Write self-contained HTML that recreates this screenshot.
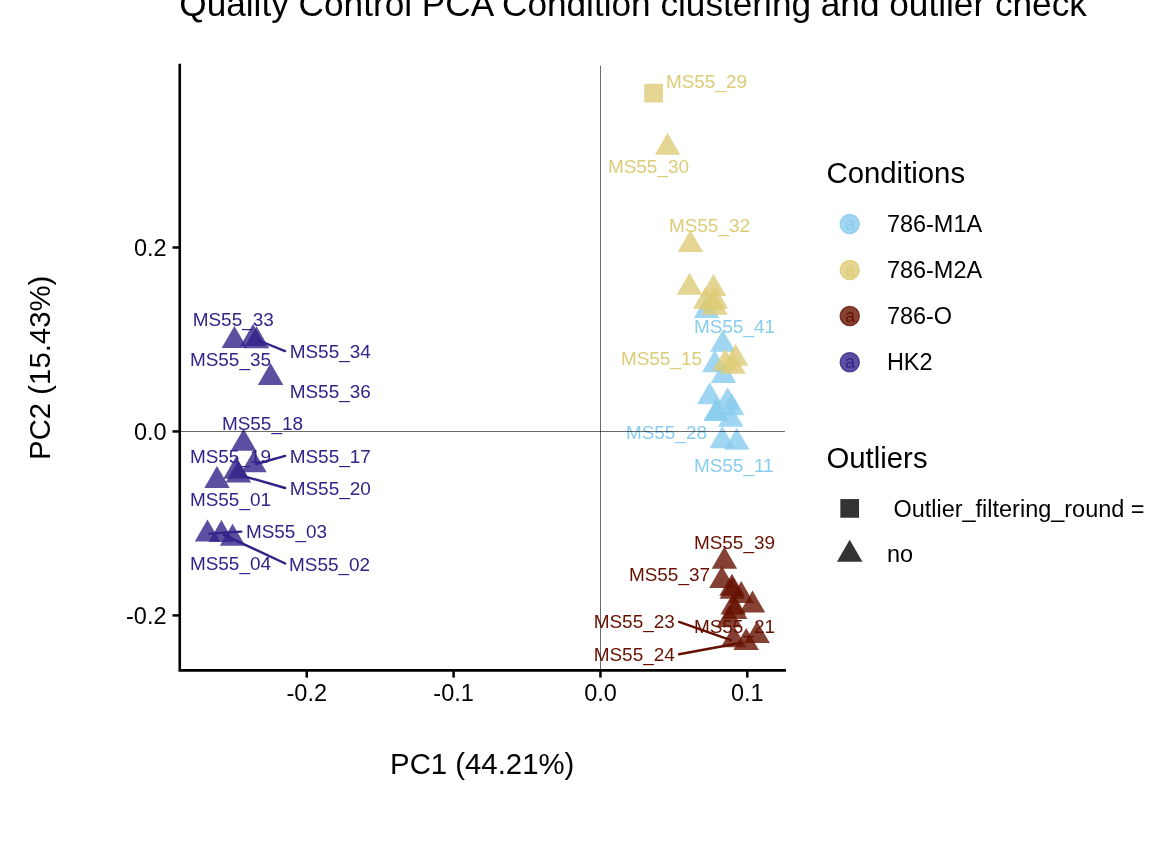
<!DOCTYPE html>
<html><head><meta charset="utf-8"><title>Quality Control PCA</title>
<style>
html,body{margin:0;padding:0;background:#fff;width:1152px;height:864px;overflow:hidden}
svg{display:block;will-change:transform}
text{font-family:"Liberation Sans","Helvetica","Arial",sans-serif}
</style></head><body>
<svg width="1152" height="864" viewBox="0 0 1152 864">
<rect x="0" y="0" width="1152" height="864" fill="#fff"/>

<text x="179.3" y="15.6" font-size="35.2" fill="#000">Quality Control PCA Condition clustering and outlier check</text>
<g fill-opacity="0.8">
<polygon points="706.60,296.00 719.33,318.05 693.87,318.05" fill="#88CCEE"/>
<polygon points="722.80,329.80 735.53,351.85 710.07,351.85" fill="#88CCEE"/>
<polygon points="714.70,350.10 727.43,372.15 701.97,372.15" fill="#88CCEE"/>
<polygon points="723.50,361.00 736.23,383.05 710.77,383.05" fill="#88CCEE"/>
<polygon points="709.70,382.20 722.43,404.25 696.97,404.25" fill="#88CCEE"/>
<polygon points="727.50,387.20 740.23,409.25 714.77,409.25" fill="#88CCEE"/>
<polygon points="731.70,393.10 744.43,415.15 718.97,415.15" fill="#88CCEE"/>
<polygon points="716.30,398.70 729.03,420.75 703.57,420.75" fill="#88CCEE"/>
<polygon points="716.30,398.90 729.03,420.95 703.57,420.95" fill="#88CCEE"/>
<polygon points="730.80,404.80 743.53,426.85 718.07,426.85" fill="#88CCEE"/>
<polygon points="722.20,426.10 734.93,448.15 709.47,448.15" fill="#88CCEE"/>
<polygon points="736.80,427.80 749.53,449.85 724.07,449.85" fill="#88CCEE"/>
<rect x="644.25" y="83.75" width="18.7" height="18.7" fill="#DDCC77"/>
<polygon points="667.60,132.70 680.33,154.75 654.87,154.75" fill="#DDCC77"/>
<polygon points="690.40,229.90 703.13,251.95 677.67,251.95" fill="#DDCC77"/>
<polygon points="689.50,272.80 702.23,294.85 676.77,294.85" fill="#DDCC77"/>
<polygon points="713.50,274.00 726.23,296.05 700.77,296.05" fill="#DDCC77"/>
<polygon points="705.60,286.80 718.33,308.85 692.87,308.85" fill="#DDCC77"/>
<polygon points="715.50,286.80 728.23,308.85 702.77,308.85" fill="#DDCC77"/>
<polygon points="712.50,288.00 725.23,310.05 699.77,310.05" fill="#DDCC77"/>
<polygon points="714.80,292.80 727.53,314.85 702.07,314.85" fill="#DDCC77"/>
<polygon points="735.60,343.80 748.33,365.85 722.87,365.85" fill="#DDCC77"/>
<polygon points="725.20,348.80 737.93,370.85 712.47,370.85" fill="#DDCC77"/>
<polygon points="733.00,351.80 745.73,373.85 720.27,373.85" fill="#DDCC77"/>
<polygon points="724.40,546.70 737.13,568.75 711.67,568.75" fill="#661100"/>
<polygon points="721.90,565.90 734.63,587.95 709.17,587.95" fill="#661100"/>
<polygon points="732.00,573.70 744.73,595.75 719.27,595.75" fill="#661100"/>
<polygon points="732.30,576.80 745.03,598.85 719.57,598.85" fill="#661100"/>
<polygon points="741.20,580.90 753.93,602.95 728.47,602.95" fill="#661100"/>
<polygon points="752.50,590.50 765.23,612.55 739.77,612.55" fill="#661100"/>
<polygon points="733.20,592.40 745.93,614.45 720.47,614.45" fill="#661100"/>
<polygon points="734.70,596.90 747.43,618.95 721.97,618.95" fill="#661100"/>
<polygon points="729.20,605.10 741.93,627.15 716.47,627.15" fill="#661100"/>
<polygon points="733.60,625.30 746.33,647.35 720.87,647.35" fill="#661100"/>
<polygon points="746.20,628.00 758.93,650.05 733.47,650.05" fill="#661100"/>
<polygon points="757.10,621.00 769.83,643.05 744.37,643.05" fill="#661100"/>
<polygon points="234.40,326.00 247.13,348.05 221.67,348.05" fill="#332288"/>
<polygon points="253.00,323.90 265.73,345.95 240.27,345.95" fill="#332288"/>
<polygon points="256.50,326.30 269.23,348.35 243.77,348.35" fill="#332288"/>
<polygon points="270.60,362.90 283.33,384.95 257.87,384.95" fill="#332288"/>
<polygon points="243.60,428.70 256.33,450.75 230.87,450.75" fill="#332288"/>
<polygon points="253.90,450.30 266.63,472.35 241.17,472.35" fill="#332288"/>
<polygon points="236.00,456.60 248.73,478.65 223.27,478.65" fill="#332288"/>
<polygon points="238.40,460.50 251.13,482.55 225.67,482.55" fill="#332288"/>
<polygon points="217.00,466.00 229.73,488.05 204.27,488.05" fill="#332288"/>
<polygon points="207.50,519.40 220.23,541.45 194.77,541.45" fill="#332288"/>
<polygon points="221.40,519.90 234.13,541.95 208.67,541.95" fill="#332288"/>
<polygon points="232.60,523.80 245.33,545.85 219.87,545.85" fill="#332288"/>
</g>
<g stroke-width="2.4" stroke-linecap="round">
<line x1="285.0" y1="351.1" x2="258.8" y2="340.5" stroke="#332288"/>
<line x1="285.2" y1="455.9" x2="256.4" y2="464.0" stroke="#332288"/>
<line x1="285.2" y1="488.0" x2="240.8" y2="475.3" stroke="#332288"/>
<line x1="241.3" y1="531.6" x2="209.5" y2="533.6" stroke="#332288"/>
<line x1="285.2" y1="563.5" x2="223.9" y2="534.8" stroke="#332288"/>
<line x1="679.1" y1="621.9" x2="730.7" y2="640.2" stroke="#661100"/>
<line x1="679.1" y1="654.3" x2="740.0" y2="643.0" stroke="#661100"/>
</g>
<g font-size="18.97">
<text x="192.7" y="326.0" fill="#332288">MS55_33</text>
<text x="189.9" y="366.0" fill="#332288">MS55_35</text>
<text x="289.7" y="358.0" fill="#332288">MS55_34</text>
<text x="289.7" y="398.0" fill="#332288">MS55_36</text>
<text x="221.9" y="430.0" fill="#332288">MS55_18</text>
<text x="189.9" y="463.0" fill="#332288">MS55_19</text>
<text x="289.7" y="463.0" fill="#332288">MS55_17</text>
<text x="289.7" y="495.0" fill="#332288">MS55_20</text>
<text x="189.9" y="506.0" fill="#332288">MS55_01</text>
<text x="245.9" y="538.0" fill="#332288">MS55_03</text>
<text x="189.9" y="570.0" fill="#332288">MS55_04</text>
<text x="289.0" y="571.0" fill="#332288">MS55_02</text>
<text x="665.9" y="88.0" fill="#DDCC77">MS55_29</text>
<text x="607.9" y="173.0" fill="#DDCC77">MS55_30</text>
<text x="668.9" y="232.0" fill="#DDCC77">MS55_32</text>
<text x="620.9" y="365.0" fill="#DDCC77">MS55_15</text>
<text x="693.9" y="333.0" fill="#88CCEE">MS55_41</text>
<text x="625.9" y="439.0" fill="#88CCEE">MS55_28</text>
<text x="693.9" y="472.0" fill="#88CCEE">MS55_11</text>
<text x="693.9" y="549.0" fill="#661100">MS55_39</text>
<text x="628.9" y="581.0" fill="#661100">MS55_37</text>
<text x="593.7" y="628.0" fill="#661100">MS55_23</text>
<text x="693.9" y="633.0" fill="#661100">MS55_21</text>
<text x="593.7" y="661.0" fill="#661100">MS55_24</text>
</g>
<rect x="179.9" y="431" width="605.0" height="1" fill="#000" fill-opacity="0.58"/>
<rect x="600" y="65.6" width="1" height="604.8" fill="#000" fill-opacity="0.58"/>
<path d="M179.75,65.15 L179.75,670.35 L784.7,670.35" fill="none" stroke="#000" stroke-width="2.6" stroke-linecap="square" stroke-linejoin="miter"/>
<g stroke="#000" stroke-width="2.5">
<line x1="306.75" y1="670.35" x2="306.75" y2="677.6"/>
<line x1="453.60" y1="670.35" x2="453.60" y2="677.6"/>
<line x1="600.45" y1="670.35" x2="600.45" y2="677.6"/>
<line x1="747.30" y1="670.35" x2="747.30" y2="677.6"/>
<line x1="172.5" y1="615.40" x2="179.75" y2="615.40"/>
<line x1="172.5" y1="431.45" x2="179.75" y2="431.45"/>
<line x1="172.5" y1="247.50" x2="179.75" y2="247.50"/>
</g>
<g font-size="23.47" fill="#000">
<text x="306.75" y="701" text-anchor="middle">-0.2</text>
<text x="453.60" y="701" text-anchor="middle">-0.1</text>
<text x="600.45" y="701" text-anchor="middle">0.0</text>
<text x="747.30" y="701" text-anchor="middle">0.1</text>
<text x="166.5" y="623.70" text-anchor="end">-0.2</text>
<text x="166.5" y="439.75" text-anchor="end">0.0</text>
<text x="166.5" y="255.80" text-anchor="end">0.2</text>
</g>
<text x="482.2" y="774.1" font-size="29.33" text-anchor="middle" fill="#000">PC1 (44.21%)</text>
<text transform="translate(49.6,367.8) rotate(-90)" x="0" y="0" font-size="29.33" text-anchor="middle" fill="#000">PC2 (15.43%)</text>
<text x="826.5" y="183.3" font-size="29.33" fill="#000">Conditions</text>
<text x="850.0" y="229.90" font-size="17.5" text-anchor="middle" fill="#88CCEE">a</text>
<circle cx="849.76" cy="223.90" r="9.62" fill="#88CCEE" fill-opacity="0.8" stroke="#88CCEE" stroke-opacity="0.8" stroke-width="1.26"/>
<text x="886.9" y="232" font-size="23.47" fill="#000">786-M1A</text>
<text x="850.0" y="276.00" font-size="17.5" text-anchor="middle" fill="#DDCC77">a</text>
<circle cx="849.76" cy="270.00" r="9.62" fill="#DDCC77" fill-opacity="0.8" stroke="#DDCC77" stroke-opacity="0.8" stroke-width="1.26"/>
<text x="886.9" y="278" font-size="23.47" fill="#000">786-M2A</text>
<text x="850.0" y="322.10" font-size="17.5" text-anchor="middle" fill="#661100">a</text>
<circle cx="849.76" cy="316.10" r="9.62" fill="#661100" fill-opacity="0.8" stroke="#661100" stroke-opacity="0.8" stroke-width="1.26"/>
<text x="886.9" y="324" font-size="23.47" fill="#000">786-O</text>
<text x="850.0" y="368.20" font-size="17.5" text-anchor="middle" fill="#332288">a</text>
<circle cx="849.76" cy="362.20" r="9.62" fill="#332288" fill-opacity="0.8" stroke="#332288" stroke-opacity="0.8" stroke-width="1.26"/>
<text x="886.9" y="370" font-size="23.47" fill="#000">HK2</text>
<text x="826.5" y="468.1" font-size="29.33" fill="#000">Outliers</text>
<rect x="840.35" y="499.05" width="18.7" height="18.7" fill="#000" fill-opacity="0.8"/>
<polygon points="849.70,539.70 862.43,561.75 836.97,561.75" fill="#000" fill-opacity="0.8"/>
<text x="886.9" y="517" font-size="23.47" fill="#000" xml:space="preserve"> Outlier_filtering_round = 1</text>
<text x="886.9" y="562" font-size="23.47" fill="#000">no</text>
</svg></body></html>
